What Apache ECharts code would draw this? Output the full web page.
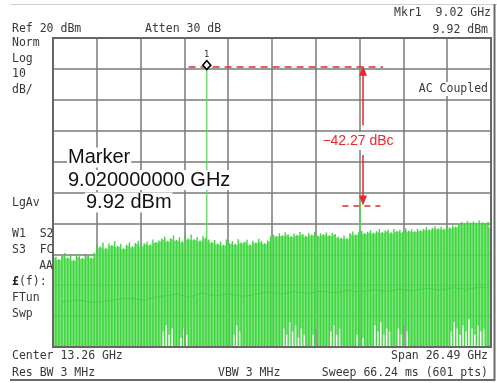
<!DOCTYPE html>
<html><head><meta charset="utf-8">
<script src="https://cdn.jsdelivr.net/npm/echarts@6/dist/echarts.min.js"></script>
<style>html,body{margin:0;padding:0;background:#fff;}#c{width:497px;height:383px;}</style>
</head><body><div id="c"></div>
<script>
// ---- axis settings (frequency in GHz, level in dBm) ----
const spanGHz = 26.49;
const refLevel = 20;
const bottomLevel = -80;
const dbPerDiv = 10;

// ---- noise trace: top of each sweep stroke (dBm), 150 strokes across the span ----
const noiseTop = [
  -30,
  -50.8,-51.5,-50.2,-49.6,-51.0,-50.4,-51.8,-50.0,-50.6,-51.2,-49.8,-50.3,-51.0,-49.5,
  -46.8,-47.5,-46.2,-47.9,-46.5,-47.0,-45.8,-47.3,-46.6,-48.0,-46.9,-46.1,-47.4,-46.3,-45.6,-47.1,-46.4,-45.9,-46.8,-45.2,-46.0,-45.5,
  -45.0,-44.2,-45.6,-44.8,-43.9,-45.3,-44.5,-45.8,-44.0,-44.9,-43.6,-45.1,-44.4,-45.5,-44.1,
  -44.6,-45.2,
  -46.0,-45.4,-46.5,-45.8,-46.9,-45.2,-46.3,-45.7,-46.6,-45.1,-46.2,-45.9,-45.3,-46.8,-45.6,-46.1,-45.0,-45.8,-46.4,-45.5,
  -44.2,-43.6,-44.0,-43.2,-43.8,-42.9,-43.5,-44.1,-43.3,-43.7,-42.8,-43.4,-44.0,-43.1,-43.6,-42.7,-43.9,-43.2,-43.5,-42.9,-43.8,-43.0,-43.4,-44.3,
  -44.6,-43.9,-44.8,
  -43.2,-42.6,-43.5,-42.9,-42.4,-43.1,-42.7,-42.2,-43.0,-42.5,-41.9,-42.8,-42.3,-42.0,-42.9,-41.8,-42.4,-42.1,-42.7,-41.6,-42.3,-41.9,-42.5,-41.7,-42.2,
  -41.8,-41.2,-41.9,-41.4,-40.9,-41.6,-41.1,-41.7,-40.8,-41.3,-40.6,-41.0,
  -40.2,-39.5,-39.9,-39.2,-39.7,-39.4,-39.8,-39.1,-39.6,-40.0,-39.5,
  -41.0
];
// lower edge of the filled band between strokes (dBm)
const noiseLow = [
  -80,-80,-80,-80,-80,-80,-80,-80,-80,-80,
  -80,-80,-80,-80,-80,-80,-80,-80,-80,-80,
  -80,-80,-80,-80,-80,-80,-80,-80,-80,-80,
  -80,-80,-80,-80,-80,-80,-80,-75,-73,-76,
  -74,-80,-80,-77,-74,-76,-80,-80,-80,-80,
  -80,-80,-80,-80,-80,-80,-80,-80,-80,-80,
  -80,-76,-73,-75,-80,-80,-80,-80,-80,-80,
  -80,-80,-80,-80,-80,-80,-80,-80,-74,-76,
  -72,-75,-73,-77,-74,-76,-80,-80,-76,-74,
  -80,-80,-80,-80,-75,-73,-76,-74,-80,-80,
  -80,-80,-80,-76,-74,-77,-80,-80,-80,-73,
  -75,-72,-76,-74,-75,-80,-80,-74,-76,-73,
  -75,-80,-80,-80,-80,-80,-80,-80,-80,-80,
  -80,-80,-80,-80,-80,-75,-72,-74,-76,-73,
  -75,-71,-74,-76,-73,-75,-74,-80,-80,-80
];
// faint inner trace [GHz, dBm]
const innerTrace = [
  [0.5,-65.5],[1.5,-64.8],[2.5,-65.6],[3.5,-64.9],[4.5,-64.2],[5.5,-64.8],[6.5,-63.6],[7.5,-62.9],
  [8.3,-63.8],[9.0,-62.5],[9.8,-63.4],[10.6,-62.8],[11.4,-63.6],[12.2,-63.0],[13.0,-62.2],[13.8,-62.9],
  [14.6,-62.1],[15.4,-62.7],[16.2,-61.9],[17.0,-62.5],[17.8,-61.6],[18.6,-62.2],[19.4,-61.5],[20.2,-62.0],
  [21.0,-61.3],[21.8,-61.8],[22.6,-61.0],[23.4,-61.6],[24.2,-60.8],[25.0,-61.4],[25.8,-60.6],[26.4,-61.0]
];
// carrier and spur [GHz, dBm]
const carrier = [9.3, 9.92];
const spur = [18.57, -32.4];
// annotation levels (dBm) and frequencies (GHz)
const refLineLevel = 10.6;
const spurLineLevel = -34.4;
const refLineFreq = [8.2, 19.96];
const spurLineFreq = [17.5, 19.8];
const arrowFreq = 18.75;
const upperArrow = [-8.2, 9.4];
const lowerArrow = [-17.9, -32.6];

const step = spanGHz / (noiseTop.length - 1);
const strokeData = noiseTop.map((t, k) => [k * step, t, noiseLow[k], k + 1 < noiseTop.length ? noiseTop[k + 1] : t]);

const chart = echarts.init(document.getElementById('c'), null, {renderer: 'canvas'});

const mono = '11.5px "DejaVu Sans Mono"';
function T(text, x, y, align, extra) {
  return {
    type: 'text', x: x, y: y, z: 100,
    style: Object.assign({text: text, font: mono, fill: '#383838', align: align || 'left', verticalAlign: 'middle'}, extra || {})
  };
}

const option = {
  animation: false,
  backgroundColor: '#fff',
  grid: {left: 53, right: 6, top: 38, bottom: 36, show: true, borderColor: '#666', borderWidth: 2, backgroundColor: 'transparent', z: 5},
  xAxis: {
    type: 'value', min: 0, max: spanGHz, interval: spanGHz / 10,
    axisLine: {show: false}, axisTick: {show: false}, axisLabel: {show: false},
    splitLine: {show: true, lineStyle: {color: '#7a7a7a', width: 1.5}}
  },
  yAxis: {
    type: 'value', min: bottomLevel, max: refLevel, interval: dbPerDiv,
    axisLine: {show: false}, axisTick: {show: false}, axisLabel: {show: false},
    splitLine: {show: true, lineStyle: {color: '#7a7a7a', width: 1.5}}
  },
  series: [
    {
      type: 'custom', name: 'noise', clip: true, z: 2,
      data: strokeData,
      renderItem: function (params, api) {
        const x = api.value(0), top = api.value(1), low = api.value(2), nt = api.value(3);
        const pTop = api.coord([x, top]);
        const pBot = api.coord([x, bottomLevel]);
        const pFill = api.coord([x, Math.min(top, nt)]);
        const pLow = api.coord([x, low]);
        const w = api.size([step, 0])[0];
        return {
          type: 'group',
          children: [
            {type: 'rect', shape: {x: pTop[0], y: pFill[1] + 1, width: w, height: Math.max(0, pLow[1] - pFill[1] - 1)},
              style: {fill: '#6ee06e', opacity: 0.88}},
            {type: 'line', shape: {x1: pTop[0], y1: pTop[1], x2: pTop[0], y2: pBot[1]},
              style: {stroke: '#32d332', lineWidth: 1.4, opacity: 0.92}}
          ]
        };
      }
    },
    {
      type: 'line', name: 'inner', data: innerTrace, symbol: 'none', z: 3,
      lineStyle: {color: '#45d445', width: 1}
    },
    {
      type: 'line', name: 'spur', data: [[spur[0], bottomLevel], spur], symbol: 'none', z: 3,
      lineStyle: {color: '#5fcf5f', width: 1.6}
    },
    {
      type: 'line', name: 'carrier', data: [[carrier[0], bottomLevel], carrier], symbol: 'none', z: 4,
      lineStyle: {color: '#5ed85e', width: 1.3},
      markPoint: {
        silent: true,
        symbol: 'diamond', symbolSize: [8, 9], symbolOffset: [0, -4],
        itemStyle: {color: '#fff', borderColor: '#000', borderWidth: 1.6},
        label: {show: true, position: 'top', formatter: '1', fontSize: 8, color: '#222', distance: 1, fontFamily: 'DejaVu Sans'},
        data: [{coord: carrier}]
      },
      markLine: {
        silent: true, animation: false,
        label: {show: false},
        lineStyle: {color: '#e8282c', width: 1.5, type: 'solid'},
        data: [
          [{coord: [refLineFreq[0], refLineLevel], symbol: 'none', lineStyle: {type: [7, 5], color: '#e8282c', width: 1.5}},
           {coord: [refLineFreq[1], refLineLevel], symbol: 'none'}],
          [{coord: [spurLineFreq[0], spurLineLevel], symbol: 'none', lineStyle: {type: [6, 5], color: '#e8282c', width: 1.5}},
           {coord: [spurLineFreq[1], spurLineLevel], symbol: 'none'}],
          [{coord: [arrowFreq, upperArrow[0]], symbol: 'none'},
           {coord: [arrowFreq, upperArrow[1]], symbol: 'triangle', symbolSize: [8, 10]}],
          [{coord: [arrowFreq, lowerArrow[0]], symbol: 'none'},
           {coord: [arrowFreq, lowerArrow[1]], symbol: 'triangle', symbolSize: [8, 10]}]
        ]
      }
    }
  ],
  graphic: [
    {type: 'line', z: 100, shape: {x1: 10, y1: 4.5, x2: 497, y2: 4.5}, style: {stroke: '#cfcfcf', lineWidth: 1}},
    {type: 'line', z: 100, shape: {x1: 494.5, y1: 4, x2: 494.5, y2: 381}, style: {stroke: '#6a6a6a', lineWidth: 2}},
    {type: 'line', z: 100, shape: {x1: 10, y1: 380, x2: 495, y2: 380}, style: {stroke: '#6a6a6a', lineWidth: 2}},
    T('Ref 20 dBm', 12, 29),
    T('Atten 30 dB', 145, 29),
    T('Mkr1  9.02 GHz', 491, 13, 'right'),
    T('9.92 dBm', 488, 30, 'right'),
    T('Norm', 12, 43),
    T('Log', 12, 59),
    T('10', 12, 74),
    T('dB/', 12, 90),
    T('AC Coupled', 489, 89, 'right', {backgroundColor: '#fff', padding: [1, 1]}),
    T('LgAv', 12, 203),
    T('W1  S2', 12, 234),
    T('S3  FC', 12, 250),
    T('AA', 53, 266, 'right'),
    T('{b|£}(f):', 12, 282, 'left', {rich: {b: {font: 'bold 11.5px "DejaVu Sans Mono"', fill: '#222'}}}),
    T('FTun', 12, 298),
    T('Swp', 12, 314),
    T('Center 13.26 GHz', 12, 356),
    T('Res BW 3 MHz', 12, 373),
    T('VBW 3 MHz', 218, 373),
    T('Span 26.49 GHz', 488, 356, 'right'),
    T('Sweep 66.24 ms (601 pts)', 488, 373, 'right'),
    {type: 'text', x: 67, y: 157.5, z: 100, style: {text: 'Marker', font: '20px "Liberation Sans"', fill: '#111', verticalAlign: 'middle', backgroundColor: '#fff', padding: [0, 1]}},
    {type: 'text', x: 67, y: 180, z: 100, style: {text: '9.020000000 GHz', font: '20px "Liberation Sans"', fill: '#111', verticalAlign: 'middle', backgroundColor: '#fff', padding: [0, 1]}},
    {type: 'text', x: 85, y: 202.5, z: 100, style: {text: '9.92 dBm', font: '20px "Liberation Sans"', fill: '#111', verticalAlign: 'middle', backgroundColor: '#fff', padding: [0, 1]}},
    {type: 'text', x: 358, y: 141, z: 100, style: {text: '\u221242.27 dBc', font: '14px "Liberation Sans"', fill: '#e8282c', align: 'center', verticalAlign: 'middle', backgroundColor: '#fff', padding: [2, 1]}}
  ]
};
chart.setOption(option);
</script>
</body></html>
